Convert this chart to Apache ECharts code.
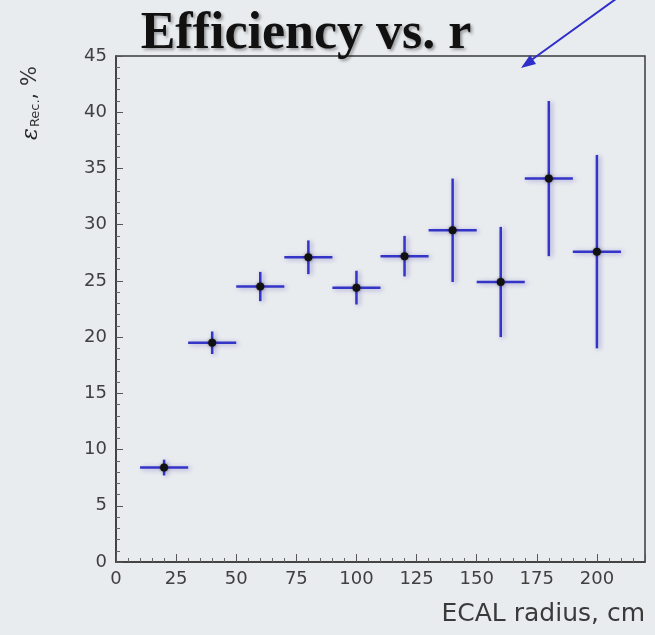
<!DOCTYPE html>
<html>
<head>
<meta charset="utf-8">
<script src="https://cdn.jsdelivr.net/npm/echarts@6/dist/echarts.min.js"></script>
<style>
  html, body { margin: 0; padding: 0; background: #e9ecef; }
  #chart { width: 655px; height: 635px; }
</style>
</head>
<body>
<div id="chart"></div>
<script>
// ECAL radius bin centres (cm) and half bin widths
const radius = [20, 40, 60, 80, 100, 120, 140, 160, 180, 200];
const radiusErr = [10, 10, 10, 10, 10, 10, 10, 10, 10, 10];
// Reconstruction efficiency (%) and its statistical error
const efficiency = [8.4, 19.5, 24.5, 27.1, 24.4, 27.2, 29.5, 24.9, 34.1, 27.6];
const efficiencyErr = [0.7, 1.0, 1.3, 1.5, 1.5, 1.8, 4.6, 4.9, 6.9, 8.6];
// Axis ranges and tick spacing
const xRange = [0, 220], xStep = 25;
const yRange = [0, 45], yStep = 5;

const points = radius.map((r, i) => [r, efficiency[i], radiusErr[i], efficiencyErr[i]]);

const chart = echarts.init(document.getElementById('chart'), null, { renderer: 'canvas' });

const labelFont = { fontFamily: 'DejaVu Sans', fontSize: 18, color: '#404040' };
const errColor = '#3434c8';

chart.setOption({
  backgroundColor: '#e9ecef',
  animation: false,
  grid: {
    left: 116, right: 10, top: 56, bottom: 73,
    show: true, borderColor: '#3a3a3a', borderWidth: 1.5, backgroundColor: 'transparent'
  },
  xAxis: {
    type: 'value', min: xRange[0], max: xRange[1], interval: xStep,
    name: 'ECAL radius, cm', nameLocation: 'end', nameGap: 0,
    nameTextStyle: {
      fontFamily: 'DejaVu Sans', fontSize: 25, color: '#3a3a3a',
      align: 'right', verticalAlign: 'top', padding: [40, 0, 0, 0]
    },
    axisLine: { show: true, lineStyle: { color: '#3a3a3a', width: 1.5 } },
    axisTick: { show: true, inside: true, length: 8, lineStyle: { color: '#555', width: 1 } },
    minorTick: { show: true, splitNumber: 5, length: 4, lineStyle: { color: '#666', width: 1 } },
    axisLabel: Object.assign({ margin: 8, showMaxLabel: false }, labelFont),
    splitLine: { show: false }
  },
  yAxis: {
    type: 'value', min: yRange[0], max: yRange[1], interval: yStep,
    axisLine: { show: true, lineStyle: { color: '#3a3a3a', width: 1.5 } },
    axisTick: { show: true, inside: true, length: 7, lineStyle: { color: '#555', width: 1 } },
    minorTick: { show: true, splitNumber: 5, length: 4, lineStyle: { color: '#666', width: 1 } },
    axisLabel: Object.assign({ margin: 9 }, labelFont),
    splitLine: { show: false }
  },
  graphic: [
    {
      type: 'text', z: 10,
      style: {
        text: 'Efficiency vs. r', x: 306, y: 35, align: 'center', verticalAlign: 'middle',
        fontFamily: 'Liberation Serif', fontWeight: 'bold', fontSize: 52, fill: '#111',
        textShadowColor: 'rgba(0,0,0,0.35)', textShadowBlur: 3, textShadowOffsetX: 2, textShadowOffsetY: 2
      }
    },
    {
      type: 'text', z: 10, x: 31, y: 103, rotation: Math.PI / 2,
      style: {
        text: '{e|ε}{s|Rec.}{n|, %}', align: 'center', verticalAlign: 'middle',
        rich: {
          e: { fontFamily: 'DejaVu Serif', fontStyle: 'italic', fontSize: 22, fill: '#222' },
          s: { fontFamily: 'DejaVu Sans', fontSize: 13, fill: '#333', padding: [10, 0, 0, 1] },
          n: { fontFamily: 'DejaVu Sans', fontSize: 21, fill: '#333' }
        }
      }
    },
    // Annotation arrow in the top right corner
    {
      type: 'line', z: 10,
      shape: { x1: 620, y1: -4, x2: 530, y2: 61 },
      style: { stroke: '#2e2ec8', lineWidth: 2 }
    },
    {
      type: 'polygon', z: 10,
      shape: { points: [[521, 68], [530, 55], [536, 64]] },
      style: { fill: '#2e2ec8' }
    }
  ],
  series: [{
    type: 'custom',
    data: points,
    clip: false,
    renderItem: function (params, api) {
      const x = api.value(0), y = api.value(1), ex = api.value(2), ey = api.value(3);
      const c = api.coord([x, y]);
      const l = api.coord([x - ex, y]);
      const r = api.coord([x + ex, y]);
      const t = api.coord([x, y + ey]);
      const b = api.coord([x, y - ey]);
      const lineStyle = {
        stroke: errColor, lineWidth: 2.5,
        shadowColor: 'rgba(70,60,170,0.45)', shadowBlur: 5, shadowOffsetX: 2, shadowOffsetY: 1
      };
      return {
        type: 'group',
        children: [
          { type: 'line', shape: { x1: l[0], y1: l[1], x2: r[0], y2: r[1] }, style: lineStyle },
          { type: 'line', shape: { x1: t[0], y1: t[1], x2: b[0], y2: b[1] }, style: lineStyle },
          { type: 'circle', shape: { cx: c[0], cy: c[1], r: 4 },
            style: { fill: '#111', shadowColor: 'rgba(0,0,0,0.4)', shadowBlur: 3 } }
        ]
      };
    }
  }]
});
</script>
</body>
</html>
